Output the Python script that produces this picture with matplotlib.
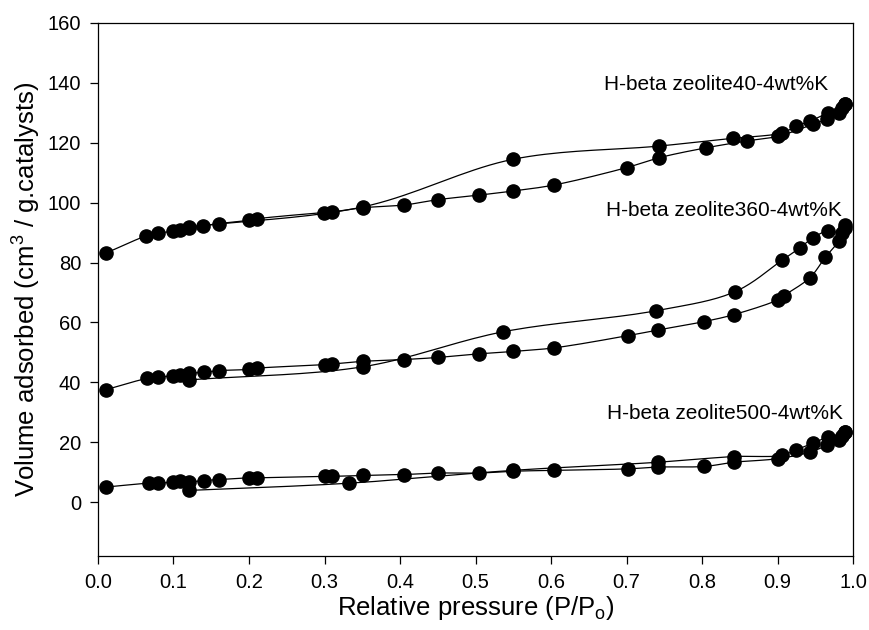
import matplotlib
matplotlib.use("Agg")
import matplotlib.pyplot as plt
import numpy as np

# --- data (relative pressure, volume adsorbed) ---
# H-beta zeolite40-4wt%K
ads40_p = [0.01, 0.064, 0.080, 0.100, 0.109, 0.120, 0.139, 0.160, 0.200, 0.210, 0.299, 0.310,
           0.351, 0.405, 0.450, 0.504, 0.550, 0.604, 0.700, 0.743, 0.805, 0.859, 0.901, 0.947,
           0.965, 0.981, 0.989]
ads40_v = [83.1, 88.9, 89.8, 90.5, 90.9, 91.7, 92.2, 93.0, 94.1, 94.6, 96.7, 96.9,
           98.3, 99.2, 101.0, 102.5, 103.9, 105.9, 111.7, 115.0, 118.3, 120.6, 122.2, 126.2,
           127.8, 130.0, 132.8]
des40_p = [0.989, 0.985, 0.967, 0.943, 0.925, 0.906, 0.841, 0.743, 0.550, 0.351, 0.120]
des40_v = [133.0, 131.7, 130.0, 127.2, 125.6, 123.3, 121.5, 118.9, 114.5, 98.6, 91.9]

# H-beta zeolite360-4wt%K
ads360_p = [0.01, 0.065, 0.080, 0.100, 0.109, 0.120, 0.140, 0.160, 0.200, 0.210, 0.301, 0.310,
            0.351, 0.405, 0.450, 0.504, 0.550, 0.604, 0.702, 0.742, 0.803, 0.842, 0.900, 0.908,
            0.943, 0.963, 0.981, 0.989]
ads360_v = [37.5, 41.3, 41.7, 42.2, 42.4, 43.0, 43.3, 43.9, 44.3, 44.7, 45.9, 46.1,
            47.0, 47.6, 48.3, 49.5, 50.3, 51.5, 55.6, 57.5, 60.3, 62.6, 67.5, 68.9,
            75.0, 81.7, 87.2, 91.7]
des360_p = [0.989, 0.985, 0.967, 0.947, 0.930, 0.906, 0.844, 0.739, 0.537, 0.351, 0.121]
des360_v = [92.5, 90.0, 90.6, 88.3, 85.0, 80.8, 70.3, 63.9, 56.9, 45.2, 40.8]

# H-beta zeolite500-4wt%K
ads500_p = [0.01, 0.067, 0.080, 0.100, 0.109, 0.120, 0.140, 0.160, 0.200, 0.210, 0.301, 0.310,
            0.351, 0.405, 0.450, 0.504, 0.550, 0.604, 0.702, 0.742, 0.803, 0.842, 0.900, 0.943,
            0.965, 0.981, 0.989]
ads500_v = [5.0, 6.3, 6.3, 6.7, 6.9, 6.7, 7.2, 7.5, 8.1, 8.1, 8.6, 8.6,
            8.9, 9.2, 9.7, 9.7, 10.3, 10.6, 11.1, 11.7, 11.9, 13.3, 14.5, 16.7,
            18.9, 20.6, 23.3]
des500_p = [0.989, 0.985, 0.967, 0.947, 0.925, 0.906, 0.842, 0.742, 0.550, 0.332, 0.121]
des500_v = [23.5, 22.2, 21.7, 19.7, 17.5, 15.6, 15.2, 13.3, 10.6, 6.3, 3.9]

labels = ["H-beta zeolite40-4wt%K", "H-beta zeolite360-4wt%K", "H-beta zeolite500-4wt%K"]
label_xy = [(0.967, 139.5), (0.985, 97.5), (0.987, 29.7)]

plt.rcParams['font.family'] = ['Liberation Sans', 'DejaVu Sans']


def smooth(px, py, sx=755.0, sy=3.0, n=20):
    # centripetal Catmull-Rom through the points (for the connecting curve only)
    P = np.column_stack([np.asarray(px) * sx, np.asarray(py) * sy])
    P = np.vstack([2 * P[0] - P[1], P, 2 * P[-1] - P[-2]])
    out = [P[1]]
    for i in range(1, len(P) - 2):
        p0, p1, p2, p3 = P[i - 1], P[i], P[i + 1], P[i + 2]
        t0 = 0.0
        t1 = t0 + max(np.linalg.norm(p1 - p0), 1e-6) ** 0.5
        t2 = t1 + max(np.linalg.norm(p2 - p1), 1e-6) ** 0.5
        t3 = t2 + max(np.linalg.norm(p3 - p2), 1e-6) ** 0.5
        for t in np.linspace(t1, t2, n)[1:]:
            a1 = (t1 - t) / (t1 - t0) * p0 + (t - t0) / (t1 - t0) * p1
            a2 = (t2 - t) / (t2 - t1) * p1 + (t - t1) / (t2 - t1) * p2
            a3 = (t3 - t) / (t3 - t2) * p2 + (t - t2) / (t3 - t2) * p3
            b1 = (t2 - t) / (t2 - t0) * a1 + (t - t0) / (t2 - t0) * a2
            b2 = (t3 - t) / (t3 - t1) * a2 + (t - t1) / (t3 - t1) * a3
            out.append((t2 - t) / (t2 - t1) * b1 + (t - t1) / (t2 - t1) * b2)
    out = np.array(out)
    return out[:, 0] / sx, out[:, 1] / sy


fig = plt.figure(figsize=(8.7, 6.3), dpi=100)
ax = fig.add_axes([0.1126, 0.1175, 0.868, 0.846])

branches = [(ads40_p, ads40_v), (des40_p, des40_v),
            (ads360_p, ads360_v), (des360_p, des360_v),
            (ads500_p, ads500_v), (des500_p, des500_v)]
for p, v in branches:
    sxp, syv = smooth(p, v)
    ax.plot(sxp, syv, color='black', lw=0.9, zorder=2)
    ax.plot(p, v, 'o', color='black', ms=9.5, zorder=3)

for txt, (lx, ly) in zip(labels, label_xy):
    ax.text(lx, ly, txt, ha='right', va='center', fontsize=15)

ax.set_xlim(0.0, 1.0)
ax.set_ylim(-18, 160)
ax.set_xticks(np.arange(0, 1.01, 0.1))
ax.set_xticklabels([f"{t:.1f}" for t in np.arange(0, 1.01, 0.1)])
ax.set_yticks(np.arange(0, 161, 20))
ax.tick_params(direction='out', length=6, width=0.9, labelsize=14.5, pad=6,
               top=False, right=False)
for s in ax.spines.values():
    s.set_linewidth(0.9)

ax.set_xlabel("Relative pressure (P/P$_\\mathregular{o}$)", fontsize=18.5, labelpad=2)
ax.set_ylabel("Volume adsorbed (cm$^\\mathregular{3}$ / g.catalysts)", fontsize=18.5, labelpad=4)

fig.savefig("out.png", dpi=100)
